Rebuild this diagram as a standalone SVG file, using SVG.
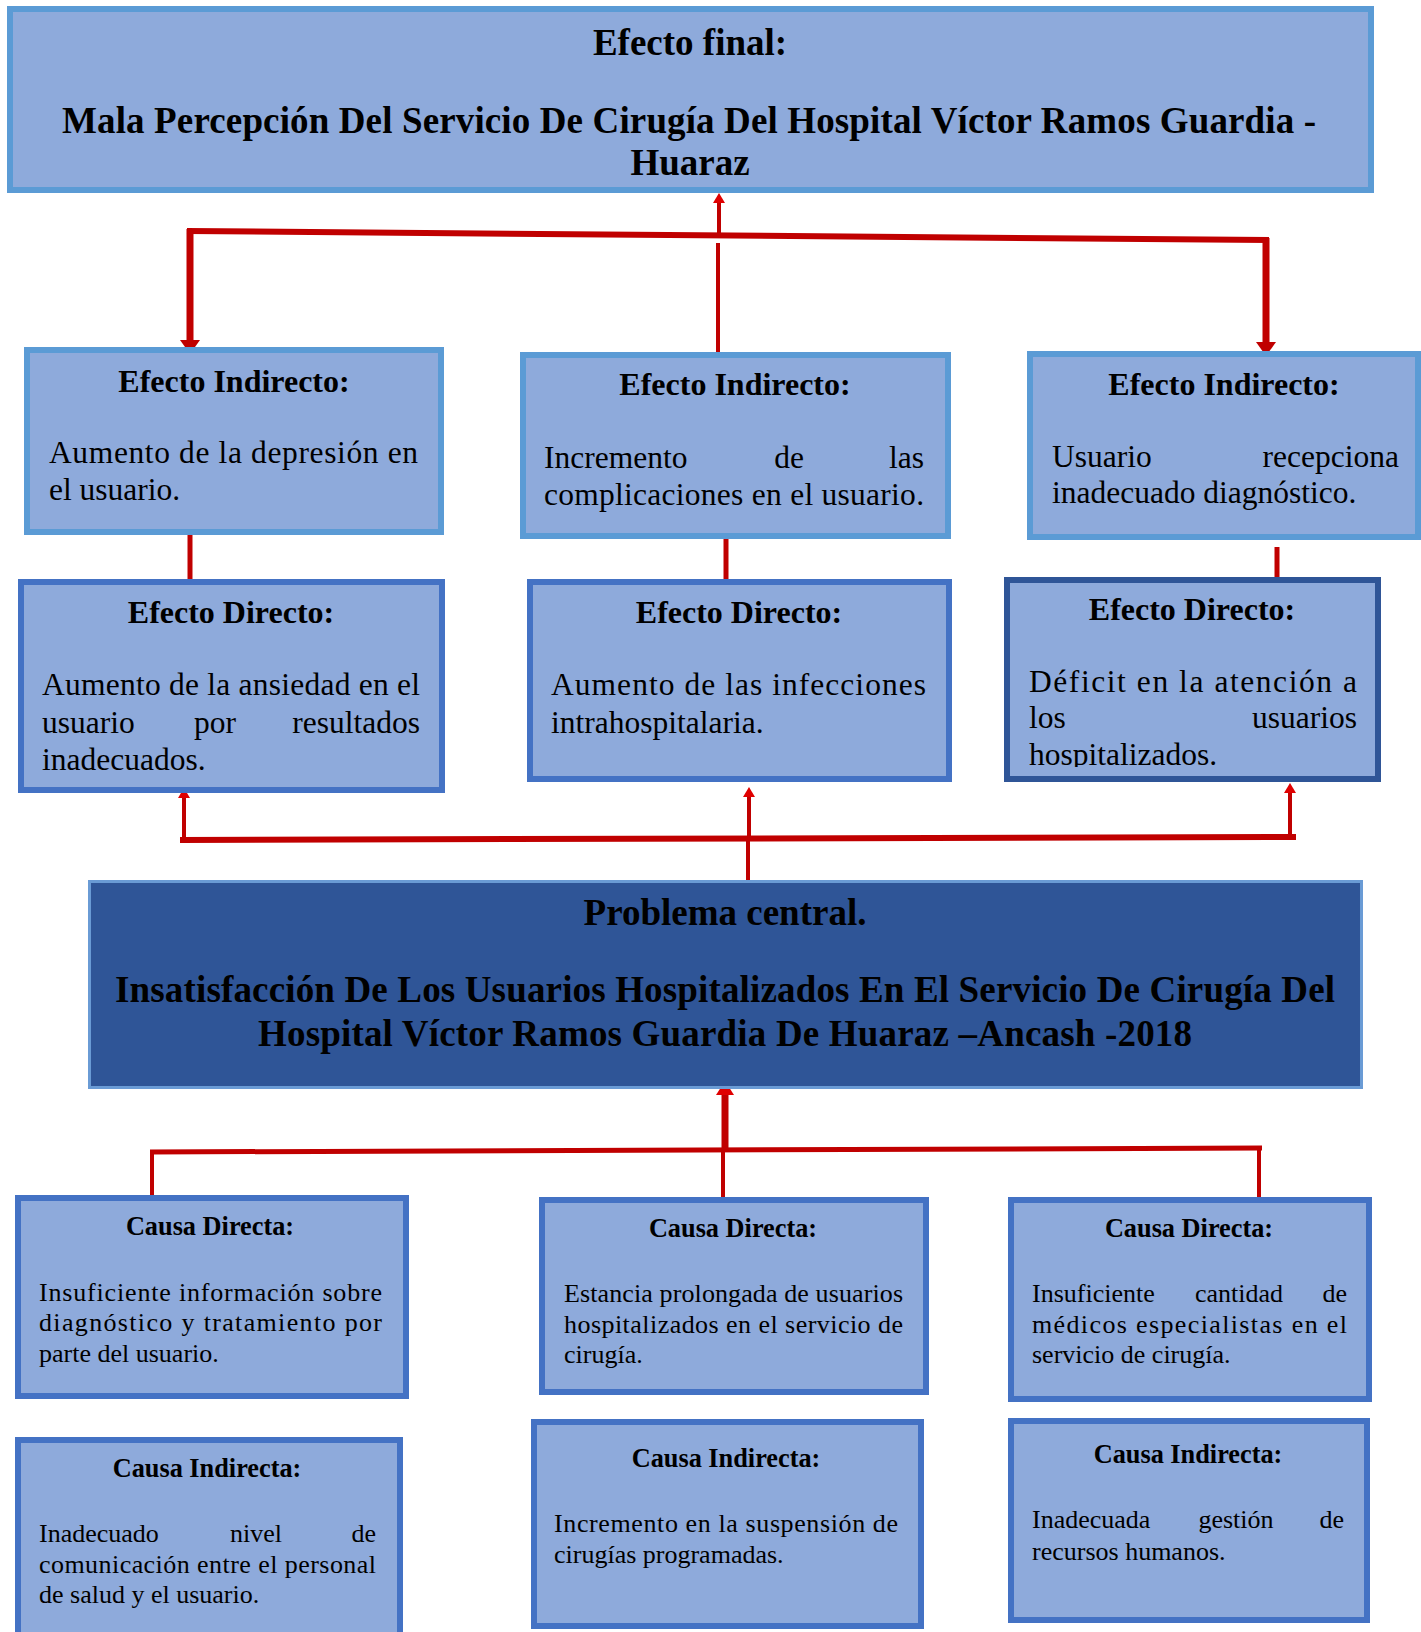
<svg xmlns="http://www.w3.org/2000/svg" width="1421" height="1632" viewBox="0 0 1421 1632">
<style>
.bx{fill:#8EAADB;stroke-width:6}
.l{stroke:#5B9BD5}
.d{stroke:#4472C4}
.dd{stroke:#2F5597}
text{font-family:"Liberation Serif","Times New Roman",serif;fill:#000}
.h1{font-size:37px;font-weight:bold;text-anchor:middle}
.h2{font-size:32px;font-weight:bold;text-anchor:middle}
.b2{font-size:31.5px}
.h3{font-size:26.3px;font-weight:bold;text-anchor:middle}
.b3{font-size:26px}
.m{text-anchor:middle}
.e{text-anchor:end}
.cn line{stroke:#C00000;fill:none}
</style>
<defs>
<marker id="abig" markerUnits="userSpaceOnUse" viewBox="0 0 14 20" markerWidth="14" markerHeight="20" refX="0" refY="10" orient="auto"><path d="M0,0 L14,10 L0,20 z" fill="#C00000"/></marker>
<marker id="asm" markerUnits="userSpaceOnUse" viewBox="0 0 10 12" markerWidth="10" markerHeight="12" refX="0" refY="6" orient="auto"><path d="M0,0 L10,6 L0,12 z" fill="#E00000"/></marker>
<marker id="amid" markerUnits="userSpaceOnUse" viewBox="0 0 14 18" markerWidth="14" markerHeight="18" refX="0" refY="9" orient="auto"><path d="M0,0 L14,9 L0,18 z" fill="#E00000"/></marker>
<clipPath id="c3"><rect x="1007" y="580" width="371" height="187"/></clipPath>
</defs>

<g id="connectors" class="cn">
<line x1="719" y1="233" x2="719" y2="203" stroke-width="4" marker-end="url(#asm)"/>
<line x1="187" y1="231" x2="1269" y2="240" stroke-width="6"/>
<line x1="190" y1="229" x2="190" y2="340" stroke-width="7" marker-end="url(#abig)"/>
<line x1="1266" y1="238" x2="1266" y2="342" stroke-width="7" marker-end="url(#abig)"/>
<line x1="718" y1="243" x2="718" y2="352" stroke-width="4"/>
<line x1="190" y1="535" x2="190" y2="580" stroke-width="5"/>
<line x1="726" y1="539" x2="726" y2="580" stroke-width="5"/>
<line x1="1277" y1="547" x2="1277" y2="578" stroke-width="5"/>
<line x1="180" y1="840" x2="1296" y2="837" stroke-width="6"/>
<line x1="184" y1="840" x2="184" y2="798" stroke-width="4" marker-end="url(#asm)"/>
<line x1="749" y1="838" x2="749" y2="797" stroke-width="4" marker-end="url(#asm)"/>
<line x1="1290" y1="837" x2="1290" y2="793" stroke-width="4" marker-end="url(#asm)"/>
<line x1="748" y1="840" x2="748" y2="880" stroke-width="4"/>
<line x1="725" y1="1150" x2="725" y2="1095" stroke-width="7" marker-end="url(#amid)"/>
<line x1="150" y1="1152" x2="1262" y2="1148" stroke-width="5"/>
<line x1="152" y1="1150" x2="152" y2="1197" stroke-width="4"/>
<line x1="723" y1="1150" x2="723" y2="1200" stroke-width="4"/>
<line x1="1259" y1="1148" x2="1259" y2="1197" stroke-width="4"/>
</g>

<g id="efecto-final">
<rect class="bx l" x="10" y="9" width="1361" height="181"/>
<text class="h1" x="690" y="55">Efecto final:</text>
<text class="h1" x="689" y="133" textLength="1254" lengthAdjust="spacing">Mala Percepción Del Servicio De Cirugía Del Hospital Víctor Ramos Guardia -</text>
<text class="h1" x="690" y="175">Huaraz</text>
</g>

<g id="efecto-indirecto-1">
<rect class="bx l" x="27" y="350" width="414" height="182"/>
<text class="h2" x="234" y="392">Efecto Indirecto:</text>
<text class="b2" x="49" y="463" textLength="369" lengthAdjust="spacing">Aumento de la depresión en</text>
<text class="b2" x="49" y="500">el usuario.</text>
</g>

<g id="efecto-indirecto-2">
<rect class="bx l" x="523" y="355" width="425" height="181"/>
<text class="h2" x="735" y="395">Efecto Indirecto:</text>
<text class="b2" x="544" y="468">Incremento</text>
<text class="b2 m" x="789" y="468">de</text>
<text class="b2 e" x="924" y="468">las</text>
<text class="b2" x="544" y="505" textLength="380" lengthAdjust="spacing">complicaciones en el usuario.</text>
</g>

<g id="efecto-indirecto-3">
<rect class="bx l" x="1030" y="354" width="388" height="183"/>
<text class="h2" x="1224" y="395">Efecto Indirecto:</text>
<text class="b2" x="1052" y="467">Usuario</text>
<text class="b2 e" x="1399" y="467">recepciona</text>
<text class="b2" x="1052" y="503">inadecuado diagnóstico.</text>
</g>

<g id="efecto-directo-1">
<rect class="bx d" x="21" y="582" width="421" height="208"/>
<text class="h2" x="231" y="623">Efecto Directo:</text>
<text class="b2" x="42" y="695" textLength="378" lengthAdjust="spacing">Aumento de la ansiedad en el</text>
<text class="b2" x="42" y="733">usuario</text>
<text class="b2 m" x="215" y="733">por</text>
<text class="b2 e" x="420" y="733">resultados</text>
<text class="b2" x="42" y="770">inadecuados.</text>
</g>

<g id="efecto-directo-2">
<rect class="bx d" x="530" y="582" width="419" height="197"/>
<text class="h2" x="739" y="623">Efecto Directo:</text>
<text class="b2" x="551" y="695" textLength="375" lengthAdjust="spacing">Aumento de las infecciones</text>
<text class="b2" x="551" y="733">intrahospitalaria.</text>
</g>

<g id="efecto-directo-3">
<rect class="bx dd" x="1007" y="580" width="371" height="199"/>
<text class="h2" x="1192" y="620">Efecto Directo:</text>
<g clip-path="url(#c3)">
<text class="b2" x="1029" y="692" textLength="328" lengthAdjust="spacing">Déficit en la atención a</text>
<text class="b2" x="1029" y="728">los</text>
<text class="b2 e" x="1357" y="728">usuarios</text>
<text class="b2" x="1029" y="765">hospitalizados.</text>
</g>
</g>

<g id="problema-central">
<rect x="89.5" y="881.5" width="1272" height="206" fill="#2F5597" stroke="#6A9BD5" stroke-width="3"/>
<text class="h1" x="725" y="925">Problema central.</text>
<text class="h1" x="725" y="1002" textLength="1220" lengthAdjust="spacing">Insatisfacción De Los Usuarios Hospitalizados En El Servicio De Cirugía Del</text>
<text class="h1" x="725" y="1046" textLength="934" lengthAdjust="spacing">Hospital Víctor Ramos Guardia De Huaraz –Ancash -2018</text>
</g>

<g id="causa-directa-1">
<rect class="bx d" x="18" y="1198" width="388" height="198"/>
<text class="h3" x="210" y="1235">Causa Directa:</text>
<text class="b3" x="39" y="1301" textLength="343" lengthAdjust="spacing">Insuficiente información sobre</text>
<text class="b3" x="39" y="1331" textLength="343" lengthAdjust="spacing">diagnóstico y tratamiento por</text>
<text class="b3" x="39" y="1362">parte del usuario.</text>
</g>

<g id="causa-directa-2">
<rect class="bx d" x="542" y="1200" width="384" height="192"/>
<text class="h3" x="733" y="1237">Causa Directa:</text>
<text class="b3" x="564" y="1302" textLength="339" lengthAdjust="spacing">Estancia prolongada de usuarios</text>
<text class="b3" x="564" y="1333" textLength="339" lengthAdjust="spacing">hospitalizados en el servicio de</text>
<text class="b3" x="564" y="1363">cirugía.</text>
</g>

<g id="causa-directa-3">
<rect class="bx d" x="1011" y="1200" width="358" height="199"/>
<text class="h3" x="1189" y="1237">Causa Directa:</text>
<text class="b3" x="1032" y="1302">Insuficiente</text>
<text class="b3 m" x="1239" y="1302">cantidad</text>
<text class="b3 e" x="1347" y="1302">de</text>
<text class="b3" x="1032" y="1333" textLength="315" lengthAdjust="spacing">médicos especialistas en el</text>
<text class="b3" x="1032" y="1363">servicio de cirugía.</text>
</g>

<g id="causa-indirecta-1">
<rect class="bx d" x="18" y="1440" width="382" height="200"/>
<text class="h3" x="207" y="1477">Causa Indirecta:</text>
<text class="b3" x="39" y="1542">Inadecuado</text>
<text class="b3 m" x="256" y="1542">nivel</text>
<text class="b3 e" x="376" y="1542">de</text>
<text class="b3" x="39" y="1573" textLength="337" lengthAdjust="spacing">comunicación entre el personal</text>
<text class="b3" x="39" y="1603">de salud y el usuario.</text>
</g>

<g id="causa-indirecta-2">
<rect class="bx d" x="534" y="1422" width="387" height="204"/>
<text class="h3" x="726" y="1467">Causa Indirecta:</text>
<text class="b3" x="554" y="1532" textLength="344" lengthAdjust="spacing">Incremento en la suspensión de</text>
<text class="b3" x="554" y="1563">cirugías programadas.</text>
</g>

<g id="causa-indirecta-3">
<rect class="bx d" x="1011" y="1421" width="356" height="199"/>
<text class="h3" x="1188" y="1463">Causa Indirecta:</text>
<text class="b3" x="1032" y="1528">Inadecuada</text>
<text class="b3 m" x="1236" y="1528">gestión</text>
<text class="b3 e" x="1344" y="1528">de</text>
<text class="b3" x="1032" y="1560">recursos humanos.</text>
</g>
</svg>
